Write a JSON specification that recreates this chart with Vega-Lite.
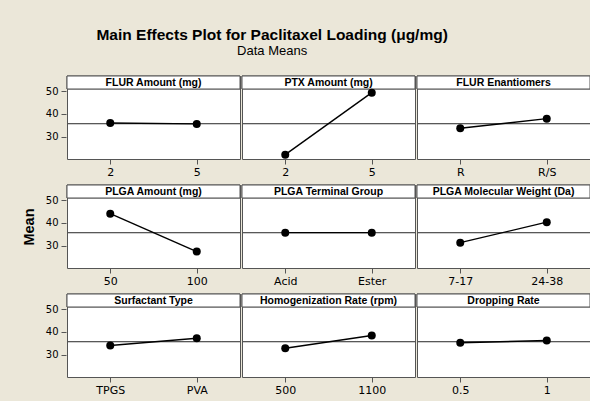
{
  "$schema": "https://vega.github.io/schema/vega-lite/v6.json",
  "background": "#EBE7D9",
  "padding": {"left": 21, "top": 27, "right": 3, "bottom": 5},
  "title": {
    "text": "Main Effects Plot for Paclitaxel Loading (μg/mg)",
    "subtitle": "Data Means",
    "font": "Liberation Sans",
    "fontSize": 15.5,
    "fontWeight": "bold",
    "color": "black",
    "subtitleFont": "Liberation Sans",
    "subtitleFontSize": 13,
    "subtitleColor": "black",
    "subtitlePadding": 2,
    "anchor": "middle",
    "dx": -34,
    "offset": 17
  },
  "spacing": 6,
  "vconcat": [
    {
      "data": {"values": [
        {"factor": "FLUR Amount (mg)", "level": "2", "mean": 36.0},
        {"factor": "FLUR Amount (mg)", "level": "5", "mean": 35.6},
        {"factor": "PTX Amount (mg)", "level": "2", "mean": 22.1},
        {"factor": "PTX Amount (mg)", "level": "5", "mean": 49.3},
        {"factor": "FLUR Enantiomers", "level": "R", "mean": 33.7},
        {"factor": "FLUR Enantiomers", "level": "R/S", "mean": 37.9}
      ]},
      "facet": {"column": {"field": "factor", "type": "nominal", "sort": ["FLUR Amount (mg)", "PTX Amount (mg)", "FLUR Enantiomers"], "header": {"labels": false, "title": null}}},
      "spacing": {"column": 0},
      "resolve": {"scale": {"x": "independent"}},
      "spec": {
        "width": 173,
        "height": 83,
        "layer": [
          {"mark": {"type": "rect", "fill": "white", "stroke": "#555555", "strokeWidth": 1}, "encoding": {"y": {"datum": 50.9, "title": "Mean"}, "y2": {"datum": 56.6}}},
          {"transform": [{"aggregate": [{"op": "count", "as": "n"}], "groupby": ["factor"]}], "mark": {"type": "text", "font": "Liberation Sans", "fontSize": 10.5, "fontWeight": "bold", "baseline": "middle", "color": "black"}, "encoding": {"text": {"field": "factor"}, "y": {"datum": 53.7, "title": "Mean"}}},
          {"mark": {"type": "rule", "color": "#555555", "strokeWidth": 1}, "encoding": {"y": {"datum": 35.7, "title": "Mean"}}},
          {"mark": {"type": "line", "color": "black", "strokeWidth": 1.4}, "encoding": {
            "x": {"field": "level", "type": "nominal", "sort": null, "scale": {"type": "point", "padding": 0.5}, "title": null},
            "y": {"field": "mean", "type": "quantitative", "title": "Mean", "scale": {"domain": [20.2, 56.6], "nice": false, "zero": false}, "axis": {"values": [30, 40, 50], "titleOpacity": 0}}
          }},
          {"mark": {"type": "point", "filled": true, "color": "black", "size": 64, "opacity": 1}, "encoding": {
            "x": {"field": "level", "type": "nominal", "sort": null, "title": null},
            "y": {"field": "mean", "type": "quantitative", "title": "Mean"}
          }}
        ]
      }
    },
    {
      "data": {"values": [
        {"factor": "PLGA Amount (mg)", "level": "50", "mean": 44.0},
        {"factor": "PLGA Amount (mg)", "level": "100", "mean": 27.4},
        {"factor": "PLGA Terminal Group", "level": "Acid", "mean": 35.7},
        {"factor": "PLGA Terminal Group", "level": "Ester", "mean": 35.7},
        {"factor": "PLGA Molecular Weight (Da)", "level": "7-17", "mean": 31.3},
        {"factor": "PLGA Molecular Weight (Da)", "level": "24-38", "mean": 40.3}
      ]},
      "facet": {"column": {"field": "factor", "type": "nominal", "sort": ["PLGA Amount (mg)", "PLGA Terminal Group", "PLGA Molecular Weight (Da)"], "header": {"labels": false, "title": null}}},
      "spacing": {"column": 0},
      "resolve": {"scale": {"x": "independent"}},
      "spec": {
        "width": 173,
        "height": 83,
        "layer": [
          {"mark": {"type": "rect", "fill": "white", "stroke": "#555555", "strokeWidth": 1}, "encoding": {"y": {"datum": 50.9, "title": "Mean"}, "y2": {"datum": 56.6}}},
          {"transform": [{"aggregate": [{"op": "count", "as": "n"}], "groupby": ["factor"]}], "mark": {"type": "text", "font": "Liberation Sans", "fontSize": 10.5, "fontWeight": "bold", "baseline": "middle", "color": "black"}, "encoding": {"text": {"field": "factor"}, "y": {"datum": 53.7, "title": "Mean"}}},
          {"mark": {"type": "rule", "color": "#555555", "strokeWidth": 1}, "encoding": {"y": {"datum": 35.7, "title": "Mean"}}},
          {"mark": {"type": "line", "color": "black", "strokeWidth": 1.4}, "encoding": {
            "x": {"field": "level", "type": "nominal", "sort": null, "scale": {"type": "point", "padding": 0.5}, "title": null},
            "y": {"field": "mean", "type": "quantitative", "title": "Mean", "scale": {"domain": [20.2, 56.6], "nice": false, "zero": false}, "axis": {"values": [30, 40, 50]}}
          }},
          {"mark": {"type": "point", "filled": true, "color": "black", "size": 64, "opacity": 1}, "encoding": {
            "x": {"field": "level", "type": "nominal", "sort": null, "title": null},
            "y": {"field": "mean", "type": "quantitative", "title": "Mean"}
          }}
        ]
      }
    },
    {
      "data": {"values": [
        {"factor": "Surfactant Type", "level": "TPGS", "mean": 34.0},
        {"factor": "Surfactant Type", "level": "PVA", "mean": 37.2},
        {"factor": "Homogenization Rate (rpm)", "level": "500", "mean": 32.8},
        {"factor": "Homogenization Rate (rpm)", "level": "1100", "mean": 38.4},
        {"factor": "Dropping Rate", "level": "0.5", "mean": 35.2},
        {"factor": "Dropping Rate", "level": "1", "mean": 36.2}
      ]},
      "facet": {"column": {"field": "factor", "type": "nominal", "sort": ["Surfactant Type", "Homogenization Rate (rpm)", "Dropping Rate"], "header": {"labels": false, "title": null}}},
      "spacing": {"column": 0},
      "resolve": {"scale": {"x": "independent"}},
      "spec": {
        "width": 173,
        "height": 83,
        "layer": [
          {"mark": {"type": "rect", "fill": "white", "stroke": "#555555", "strokeWidth": 1}, "encoding": {"y": {"datum": 50.9, "title": "Mean"}, "y2": {"datum": 56.6}}},
          {"transform": [{"aggregate": [{"op": "count", "as": "n"}], "groupby": ["factor"]}], "mark": {"type": "text", "font": "Liberation Sans", "fontSize": 10.5, "fontWeight": "bold", "baseline": "middle", "color": "black"}, "encoding": {"text": {"field": "factor"}, "y": {"datum": 53.7, "title": "Mean"}}},
          {"mark": {"type": "rule", "color": "#555555", "strokeWidth": 1}, "encoding": {"y": {"datum": 35.7, "title": "Mean"}}},
          {"mark": {"type": "line", "color": "black", "strokeWidth": 1.4}, "encoding": {
            "x": {"field": "level", "type": "nominal", "sort": null, "scale": {"type": "point", "padding": 0.5}, "title": null},
            "y": {"field": "mean", "type": "quantitative", "title": "Mean", "scale": {"domain": [20.2, 56.6], "nice": false, "zero": false}, "axis": {"values": [30, 40, 50], "titleOpacity": 0}}
          }},
          {"mark": {"type": "point", "filled": true, "color": "black", "size": 64, "opacity": 1}, "encoding": {
            "x": {"field": "level", "type": "nominal", "sort": null, "title": null},
            "y": {"field": "mean", "type": "quantitative", "title": "Mean"}
          }}
        ]
      }
    }
  ],
  "config": {
    "view": {"stroke": "#555555", "strokeWidth": 1, "fill": "white"},
    "axisY": {"labelFont": "DejaVu Sans", "labelFontSize": 10, "labelColor": "black", "tickSize": 5, "tickColor": "#555555", "domain": false, "grid": false, "labelPadding": 3, "titleFont": "Liberation Sans", "titleFontSize": 14.5, "titleFontWeight": "bold", "titleColor": "black", "titlePadding": 9},
    "axisX": {"labelFont": "DejaVu Sans", "labelFontSize": 11, "labelColor": "black", "labelAngle": 0, "tickSize": 5, "tickColor": "#555555", "domain": false, "grid": false, "labelPadding": 2}
  }
}
